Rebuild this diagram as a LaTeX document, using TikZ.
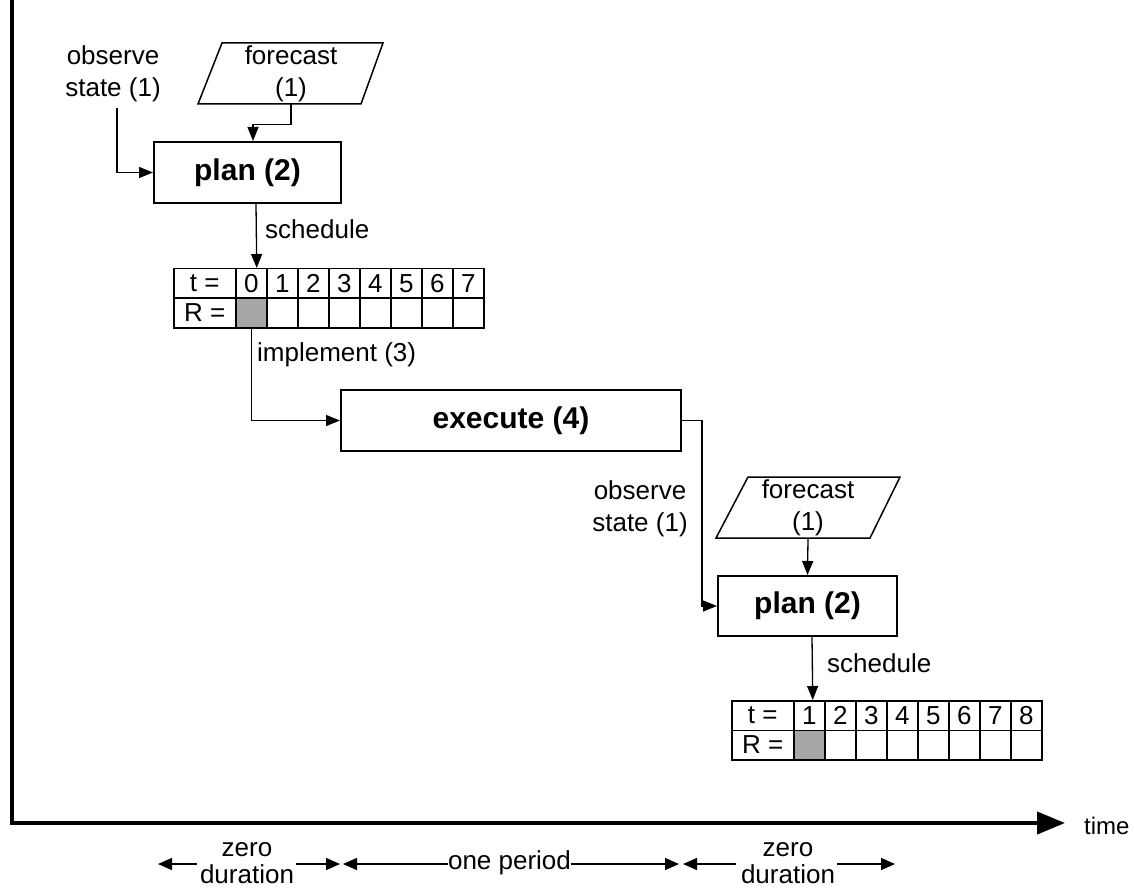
\documentclass[tikz,border=0pt]{standalone}
\usepackage{fontspec}
\setmainfont{Liberation Sans}
\usetikzlibrary{arrows.meta}
\begin{document}
\begin{tikzpicture}[x=1pt,y=-1pt,
  font=\fontsize{26}{32}\selectfont,
  box/.style={draw, line width=2pt, inner sep=0pt, font=\fontsize{30}{36}\selectfont\bfseries},
  conn/.style={line width=1.3pt, -{Triangle[length=14pt,width=11pt]}},
  barrow/.style={line width=1.4pt, -{Triangle[length=14pt,width=12pt]}},
  axis/.style={line width=4pt},
  cell/.style={draw, line width=1.5pt, minimum height=29.5pt, inner sep=0pt, anchor=north west},
  lbl/.style={align=center, inner sep=0pt},
  para/.style={line width=1.5pt},
  shade/.style={fill=gray!70}
]
\useasboundingbox (0,0) rectangle (1134,890);

% axes
\coordinate (o) at (12,823);
\coordinate (top) at (12,0);
\coordinate (xend) at (1065,823);
\draw[axis] (top) -- ([yshift=2pt]o);
\draw[axis, -{Triangle[length=28pt,width=22pt]}] ([xshift=-2pt]o) -- (xend);
\node[anchor=west, inner sep=0pt, font=\fontsize{24}{28}\selectfont] (time) at (1084,826) {time};

% first planning step
\node[lbl] (obs1) at (113,74) {observe\\state (1)};
\node[lbl, minimum width=140pt, minimum height=61pt] (fc1) at (291,73.5) {forecast\\(1)};
\draw[para] ([shift={(-69,-30.5)}]fc1.center) -- ([shift={(92,-30.5)}]fc1.center)
  -- ([shift={(70,30.5)}]fc1.center) -- ([shift={(-93,30.5)}]fc1.center) -- cycle;
\node[box, minimum width=187pt, minimum height=61pt] (plan1) at (247.5,172.5) {plan (2)};
\draw[conn] ([shift={(4,6)}]obs1.south) |- (plan1.west);
\draw[conn] (fc1.south) -- ++(0,20) -| ([xshift=5.5pt]plan1.north);

% table 1
\node[cell, minimum width=62pt] (t1h) at (173,268) {t =};
\node[cell, minimum width=62pt] (t1r) at (173,297.5) {R =};
\foreach \i in {0,...,7}{
  \node[cell, minimum width=31pt] (t1c\i) at (235+31*\i,268) {\i};
}
\node[cell, minimum width=31pt, shade] (t1d0) at (235,297.5) {};
\foreach \i in {1,...,7}{
  \node[cell, minimum width=31pt] (t1d\i) at (235+31*\i,297.5) {};
}
\draw[conn] ([xshift=8.5pt]plan1.south) -- ([xshift=5.5pt]t1c0.north);
\node[anchor=west, inner sep=0pt] (sch1) at (265,229) {schedule};

% execute
\node[box, minimum width=340pt, minimum height=61pt] (exec) at (511,420.5) {execute (4)};
\draw[conn] (t1d0.south) |- (exec.west);
\node[anchor=west, inner sep=0pt] (impl) at (257,355) {implement (3)};

% second planning step
\node[lbl] (obs2) at (640,509) {observe\\state (1)};
\node[lbl, minimum width=140pt, minimum height=61pt] (fc2) at (808,507.5) {forecast\\(1)};
\draw[para] ([shift={(-60,-30.5)}]fc2.center) -- ([shift={(92,-30.5)}]fc2.center)
  -- ([shift={(62,30.5)}]fc2.center) -- ([shift={(-92,30.5)}]fc2.center) -- cycle;
\node[box, minimum width=179pt, minimum height=60pt] (plan2) at (807.5,606) {plan (2)};
\draw[conn] (exec.east) -- ++(20,0) |- (plan2.west);
\draw[conn] (fc2.south) -- (plan2.north);

% table 2
\node[cell, minimum width=62pt] (t2h) at (731,700) {t =};
\node[cell, minimum width=62pt] (t2r) at (731,729.5) {R =};
\foreach \i in {1,...,8}{
  \node[cell, minimum width=31pt] (t2c\i) at (793+31*\i-31,700) {\i};
}
\node[cell, minimum width=31pt, shade] (t2d1) at (793,729.5) {};
\foreach \i in {2,...,8}{
  \node[cell, minimum width=31pt] (t2d\i) at (793+31*\i-31,729.5) {};
}
\draw[conn] ([xshift=4.5pt]plan2.south) -- ([xshift=3.5pt]t2c1.north);
\node[anchor=west, inner sep=0pt] (sch2) at (827,663) {schedule};

% durations
\node[lbl, font=\fontsize{26}{27}\selectfont] (z1) at (247,863) {zero\\duration};
\node[lbl] (op) at (509.5,863) {one period};
\node[lbl, font=\fontsize{26}{27}\selectfont] (z2) at (788,863) {zero\\duration};
\coordinate (b1) at (158,864);
\coordinate (b2) at (340,864);
\coordinate (b3) at (343,864);
\coordinate (b4) at (679,864);
\coordinate (b5) at (683,864);
\coordinate (b6) at (895,864);
\draw[barrow] ([xshift=-3pt]z1.west |- b1) -- (b1);
\draw[barrow] ([xshift=2pt]z1.east |- b2) -- (b2);
\draw[barrow] (op.west |- b3) -- (b3);
\draw[barrow] (op.east |- b4) -- (b4);
\draw[barrow] ([xshift=-5pt]z2.west |- b5) -- (b5);
\draw[barrow] ([xshift=2pt]z2.east |- b6) -- (b6);
\end{tikzpicture}
\end{document}
